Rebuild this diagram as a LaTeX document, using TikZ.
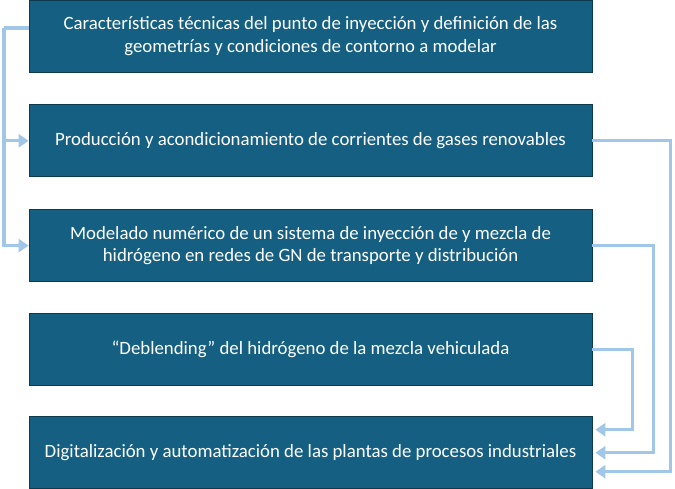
\documentclass[tikz,border=0pt]{standalone}
\usepackage{fontspec}
\setmainfont{Carlito}
\usetikzlibrary{positioning}
\usetikzlibrary{arrows.meta}
\definecolor{boxblue}{RGB}{21, 96, 130}
\definecolor{boxedge}{RGB}{14, 58, 80}
\definecolor{linkblue}{RGB}{160, 198, 232}

\begin{document}
\begin{tikzpicture}[x=1pt, y=-1pt,
        stagebox/.style={draw=boxedge, fill=boxblue, text=white, line width=0.8pt,
            minimum width=563pt, minimum height=72pt, inner sep=0pt, align=center,
            font=\fontsize{18.8}{22.5}\selectfont},
        link/.style={draw=linkblue, line width=3.2pt, -{Triangle[length=10pt, width=13pt]}}]
            \useasboundingbox (0, 0) rectangle (675, 488);

            \node[stagebox] (caract) at (310.5, 36) {Características técnicas del punto de inyección y definición de las\\ geometrías y condiciones de contorno a modelar};
            \node[stagebox, below=32pt of caract] (prod) {Producción y acondicionamiento de corrientes de gases renovables};
            \node[stagebox, below=32pt of prod] (model) {Modelado numérico de un sistema de inyección de y mezcla de\\ hidrógeno en redes de GN de transporte y distribución};
            \node[stagebox, below=31pt of model] (deblend) {“Deblending” del hidrógeno de la mezcla vehiculada};
            \node[stagebox, below=30.5pt of deblend] (digit) {Digitalización y automatización de las plantas de procesos industriales};

            % left trunk
            \coordinate (ltop) at (4, 28);
            \draw[link, -] ([yshift=8pt]caract.west) -- (ltop);
            \draw[link] (ltop) |- (prod.west);
            \draw[link] (ltop) |- (model.west);

            % right returns into the last stage
            \draw[link] (prod.east) -- ++(78, 0) |- ([xshift=3pt, yshift=-19pt]digit.east);
            \draw[link] (model.east) -- ++(61, 0) |- ([xshift=3pt]digit.east);
            \draw[link] (deblend.east) -- ++(40, 0) |- ([xshift=3pt, yshift=23pt]digit.east);
        \end{tikzpicture}
\end{document}
